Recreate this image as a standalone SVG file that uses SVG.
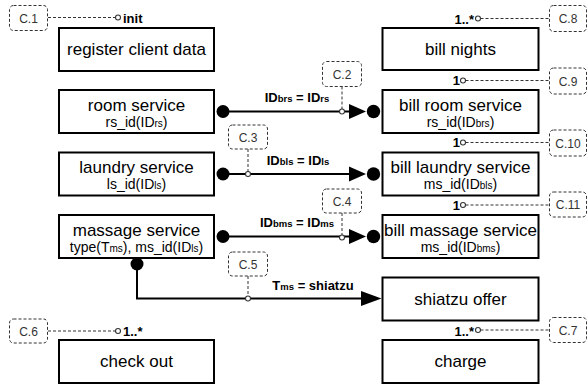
<svg xmlns="http://www.w3.org/2000/svg" width="587" height="386" viewBox="0 0 587 386">
  <style>
    .box { fill: #fff; stroke: #000; stroke-width: 2; }
    .title { font-family: "Liberation Sans", Arial, sans-serif; font-size: 17px; fill: #000; text-anchor: middle; }
    .sub { font-family: "Liberation Sans", Arial, sans-serif; font-size: 14px; fill: #000; text-anchor: middle; }
    .sub tspan.s { font-size: 10px; }
    .cbox { fill: #fff; stroke: #333; stroke-width: 1; stroke-dasharray: 3 2; }
    .ctext { font-family: "Liberation Sans", Arial, sans-serif; font-size: 12px; fill: #333; text-anchor: middle; }
    .dash { fill: none; stroke: #333; stroke-width: 1; stroke-dasharray: 3 2; }
    .pin { fill: #fff; stroke: #333; stroke-width: 1.1; }
    .card { font-family: "Liberation Sans", Arial, sans-serif; font-size: 13px; font-weight: bold; fill: #000; }
    .flow { fill: none; stroke: #000; stroke-width: 2; }
    .dot { fill: #000; }
    .head { fill: #000; }
    .lbl { font-family: "Liberation Sans", Arial, sans-serif; font-size: 13px; font-weight: bold; fill: #000; text-anchor: middle; }
    .lbl tspan.s { font-size: 9.5px; }
  </style>

  <!-- activities, left column -->
  <g id="register-client-data">
    <rect class="box" x="59" y="28" width="155" height="43"/>
    <text class="title" x="136.5" y="55">register client data</text>
  </g>
  <g id="room-service">
    <rect class="box" x="59" y="90" width="155" height="43"/>
    <text class="title" x="136.5" y="110.5">room service</text>
    <text class="sub" x="136.5" y="126.5">rs_id(ID<tspan class="s">rs</tspan>)</text>
  </g>
  <g id="laundry-service">
    <rect class="box" x="59" y="152.5" width="155" height="43"/>
    <text class="title" x="136.5" y="173">laundry service</text>
    <text class="sub" x="136.5" y="189">ls_id(ID<tspan class="s">ls</tspan>)</text>
  </g>
  <g id="massage-service">
    <rect class="box" x="59" y="215" width="155" height="43"/>
    <text class="title" x="136.5" y="235.5">massage service</text>
    <text class="sub" x="136.5" y="251.5">type(T<tspan class="s">ms</tspan>), ms_id(ID<tspan class="s">ls</tspan>)</text>
  </g>
  <g id="check-out">
    <rect class="box" x="59" y="340" width="155" height="43"/>
    <text class="title" x="136.5" y="367">check out</text>
  </g>

  <!-- activities, right column -->
  <g id="bill-nights">
    <rect class="box" x="382.5" y="28" width="156" height="42"/>
    <text class="title" x="460.5" y="55">bill nights</text>
  </g>
  <g id="bill-room-service">
    <rect class="box" x="382.5" y="90" width="156" height="43"/>
    <text class="title" x="460.5" y="110.5">bill room service</text>
    <text class="sub" x="460.5" y="126.5">rs_id(ID<tspan class="s">brs</tspan>)</text>
  </g>
  <g id="bill-laundry-service">
    <rect class="box" x="382.5" y="152.5" width="156" height="43"/>
    <text class="title" x="460.5" y="173">bill laundry service</text>
    <text class="sub" x="460.5" y="189">ms_id(ID<tspan class="s">bls</tspan>)</text>
  </g>
  <g id="bill-massage-service">
    <rect class="box" x="382.5" y="215" width="156" height="43"/>
    <text class="title" x="460.5" y="235.5">bill massage service</text>
    <text class="sub" x="460.5" y="251.5">ms_id(ID<tspan class="s">bms</tspan>)</text>
  </g>
  <g id="shiatzu-offer">
    <rect class="box" x="382.5" y="277.5" width="156" height="43"/>
    <text class="title" x="460.5" y="304.5">shiatzu offer</text>
  </g>
  <g id="charge">
    <rect class="box" x="382.5" y="340" width="156" height="43"/>
    <text class="title" x="460.5" y="367">charge</text>
  </g>

  <!-- constraints -->
  <g id="c1">
    <rect class="cbox" x="9.5" y="5.5" width="38" height="25" rx="4"/>
    <text class="ctext" x="28.5" y="22.5">C.1</text>
  </g>
  <g id="c2">
    <rect class="cbox" x="322.5" y="61.5" width="39" height="25" rx="4"/>
    <text class="ctext" x="342" y="78.5">C.2</text>
  </g>
  <g id="c3">
    <rect class="cbox" x="228.5" y="125" width="39" height="24" rx="4"/>
    <text class="ctext" x="248" y="141.5">C.3</text>
  </g>
  <g id="c4">
    <rect class="cbox" x="322.5" y="189" width="39" height="24" rx="4"/>
    <text class="ctext" x="342" y="205.5">C.4</text>
  </g>
  <g id="c5">
    <rect class="cbox" x="228.5" y="252" width="39" height="24" rx="4"/>
    <text class="ctext" x="248" y="268.5">C.5</text>
  </g>
  <g id="c6">
    <rect class="cbox" x="9.5" y="319" width="38" height="24" rx="4"/>
    <text class="ctext" x="28.5" y="335.5">C.6</text>
  </g>
  <g id="c7">
    <rect class="cbox" x="549.5" y="317.5" width="37" height="25" rx="4"/>
    <text class="ctext" x="568" y="334.5">C.7</text>
  </g>
  <g id="c8">
    <rect class="cbox" x="549.5" y="5.5" width="37" height="26" rx="4"/>
    <text class="ctext" x="568" y="23">C.8</text>
  </g>
  <g id="c9">
    <rect class="cbox" x="549.5" y="68" width="37" height="26" rx="4"/>
    <text class="ctext" x="568" y="85.5">C.9</text>
  </g>
  <g id="c10">
    <rect class="cbox" x="549.5" y="130" width="37" height="26" rx="4"/>
    <text class="ctext" x="568" y="147.5">C.10</text>
  </g>
  <g id="c11">
    <rect class="cbox" x="549.5" y="192" width="37" height="25" rx="4"/>
    <text class="ctext" x="568" y="209">C.11</text>
  </g>

  <!-- connectors -->
  <g id="connectors">
    <!-- cardinality attachments -->
    <line class="dash" x1="48" y1="17.5" x2="115.5" y2="17.5"/>
    <circle class="pin" cx="118" cy="17.5" r="2.5"/>
    <text class="card" x="123" y="23">init</text>

    <line class="dash" x1="48" y1="331" x2="115.5" y2="331"/>
    <circle class="pin" cx="118" cy="331" r="2.5"/>
    <text class="card" x="123" y="336">1..*</text>

    <line class="dash" x1="480.5" y1="18.5" x2="549.5" y2="18.5"/>
    <circle class="pin" cx="478" cy="18.5" r="2.5"/>
    <text class="card" x="474" y="23.5" text-anchor="end">1..*</text>

    <line class="dash" x1="465.5" y1="80.5" x2="549.5" y2="80.5"/>
    <circle class="pin" cx="463" cy="80.5" r="2.5"/>
    <text class="card" x="460" y="85" text-anchor="end">1</text>

    <line class="dash" x1="465.5" y1="142.5" x2="549.5" y2="142.5"/>
    <circle class="pin" cx="463" cy="142.5" r="2.5"/>
    <text class="card" x="460" y="147" text-anchor="end">1</text>

    <line class="dash" x1="465.5" y1="205" x2="549.5" y2="205"/>
    <circle class="pin" cx="463" cy="205" r="2.5"/>
    <text class="card" x="460" y="209.5" text-anchor="end">1</text>

    <line class="dash" x1="480.5" y1="330" x2="549.5" y2="330"/>
    <circle class="pin" cx="478" cy="330" r="2.5"/>
    <text class="card" x="474" y="335.5" text-anchor="end">1..*</text>

    <!-- room service -> bill room service -->
    <circle class="dot" cx="223" cy="111.5" r="6.5"/>
    <line class="flow" x1="223" y1="111.5" x2="350" y2="111.5"/>
    <polygon class="head" points="349,104 366,111.5 349,119"/>
    <circle class="dot" cx="373.5" cy="111.5" r="6.7"/>
    <text class="lbl" x="297" y="102">ID<tspan class="s">brs</tspan> = ID<tspan class="s">rs</tspan></text>
    <line class="dash" x1="342" y1="86.5" x2="342" y2="109"/>
    <circle class="pin" cx="342" cy="111.5" r="2.5"/>

    <!-- laundry service -> bill laundry service -->
    <circle class="dot" cx="223" cy="174" r="6.5"/>
    <line class="flow" x1="223" y1="174" x2="350" y2="174"/>
    <polygon class="head" points="349,166.5 366,174 349,181.5"/>
    <circle class="dot" cx="373.5" cy="174" r="6.7"/>
    <text class="lbl" x="298" y="165">ID<tspan class="s">bls</tspan> = ID<tspan class="s">ls</tspan></text>
    <line class="dash" x1="248" y1="149" x2="248" y2="171.5"/>
    <circle class="pin" cx="248" cy="174" r="2.5"/>

    <!-- massage service -> bill massage service -->
    <circle class="dot" cx="223" cy="236.5" r="6.5"/>
    <line class="flow" x1="223" y1="236.5" x2="350" y2="236.5"/>
    <polygon class="head" points="349,229 366,236.5 349,244"/>
    <circle class="dot" cx="373.5" cy="236.5" r="6.7"/>
    <text class="lbl" x="297" y="227">ID<tspan class="s">bms</tspan> = ID<tspan class="s">ms</tspan></text>
    <line class="dash" x1="342" y1="213" x2="342" y2="235"/>
    <circle class="pin" cx="342" cy="237.5" r="2.5"/>

    <!-- massage service -> shiatzu offer -->
    <circle class="dot" cx="137" cy="264" r="6.5"/>
    <polyline class="flow" points="137,264 137,298.5 363,298.5"/>
    <polygon class="head" points="361,291 381.5,298.5 361,306"/>
    <text class="lbl" x="313" y="290">T<tspan class="s">ms</tspan> = shiatzu</text>
    <line class="dash" x1="248" y1="276" x2="248" y2="296"/>
    <circle class="pin" cx="248" cy="298.5" r="2.5"/>
  </g>
</svg>
